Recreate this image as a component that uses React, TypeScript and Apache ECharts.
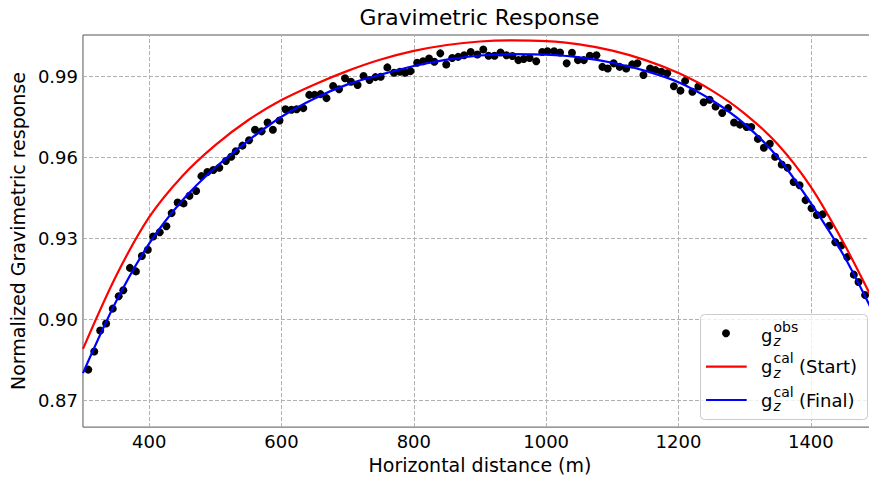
import React, { useEffect, useRef } from "react";
import * as echarts from "echarts";

// Observed gravimetric response (x in m, normalized g)
const obsX = [
  308, 317, 326, 335, 345, 354, 361, 371, 380, 389,
  398, 406, 416, 426, 434, 443, 452, 461, 471, 479,
  488, 497, 506, 516, 524, 531, 541, 551, 560, 570,
  579, 587, 597, 606, 615, 623, 633, 642, 650, 659,
  668, 678, 687, 696, 705, 715, 724, 733, 742, 750,
  760, 770, 779, 787, 795, 805, 814, 823, 831, 840,
  849, 858, 867, 876, 886, 896, 905, 913, 922, 931,
  940, 949, 958, 966, 975, 985, 994, 1002, 1012, 1021,
  1031, 1039, 1048, 1057, 1066, 1076, 1085, 1093, 1102, 1111,
  1121, 1130, 1138, 1147, 1157, 1165, 1174, 1183, 1193, 1203,
  1210, 1221, 1230, 1238, 1247, 1256, 1266, 1275, 1284, 1293,
  1303, 1310, 1320, 1329, 1338, 1346, 1356, 1365, 1374, 1383,
  1392, 1401, 1409, 1418, 1428, 1437, 1446, 1455, 1465, 1472,
  1482,
];
const obsY = [
  0.8813, 0.8880, 0.8958, 0.8984, 0.9039, 0.9085, 0.9107, 0.9190, 0.9177, 0.9234,
  0.9257, 0.9306, 0.9322, 0.9344, 0.9393, 0.9432, 0.9429, 0.9457, 0.9475, 0.9530,
  0.9545, 0.9553, 0.9561, 0.9586, 0.9602, 0.9622, 0.9643, 0.9663, 0.9702, 0.9696,
  0.9729, 0.9702, 0.9736, 0.9778, 0.9776, 0.9778, 0.9782, 0.9831, 0.9831, 0.9834,
  0.9819, 0.9864, 0.9852, 0.9893, 0.9880, 0.9868, 0.9901, 0.9886, 0.9897, 0.9898,
  0.9933, 0.9913, 0.9917, 0.9913, 0.9919, 0.9950, 0.9956, 0.9966, 0.9954, 0.9985,
  0.9944, 0.9968, 0.9972, 0.9978, 0.9990, 0.9981, 0.9999, 0.9976, 0.9976, 0.9988,
  0.9978, 0.9975, 0.9960, 0.9964, 0.9968, 0.9956, 0.9990, 0.9993, 0.9993, 0.9988,
  0.9948, 0.9987, 0.9960, 0.9960, 0.9976, 0.9978, 0.9935, 0.9929, 0.9948, 0.9935,
  0.9929, 0.9944, 0.9948, 0.9905, 0.9929, 0.9923, 0.9917, 0.9911, 0.9863, 0.9847,
  0.9883, 0.9843, 0.9862, 0.9804, 0.9813, 0.9788, 0.9764, 0.9782, 0.9729, 0.9721,
  0.9712, 0.9712, 0.9668, 0.9635, 0.9650, 0.9602, 0.9573, 0.9561, 0.9508, 0.9496,
  0.9441, 0.9411, 0.9386, 0.9389, 0.9346, 0.9285, 0.9273, 0.9230, 0.9165, 0.9138,
  0.9089,
];

// Calculated curves
const curveX = [
  300, 350, 400, 450, 500, 550, 600, 650, 700, 750, 800, 850, 900,
  950, 1000, 1050, 1100, 1150, 1200, 1250, 1300, 1350, 1400, 1450, 1500,
];
const startY = [
  0.8890, 0.9160, 0.9378, 0.9530, 0.9645, 0.9738, 0.9812, 0.9870, 0.9920, 0.9962, 0.9994, 1.0016, 1.0029,
  1.0033, 1.0030, 1.0018, 0.9995, 0.9960, 0.9912, 0.9848, 0.9762, 0.9648, 0.9490, 0.9280, 0.9040,
];
const finalY = [
  0.8800, 0.9065, 0.9280, 0.9440, 0.9562, 0.9662, 0.9750, 0.9818, 0.9870, 0.9906, 0.9938, 0.9962, 0.9977,
  0.9982, 0.9980, 0.9970, 0.9950, 0.9920, 0.9878, 0.9812, 0.9723, 0.9600, 0.9430, 0.9235, 0.8995,
];

const xTicks = [400, 600, 800, 1000, 1200, 1400];
const yTicks = [0.87, 0.9, 0.93, 0.96, 0.99];

const legendSup = ["obs", "cal", "cal"];
const legendSuffix = ["", "(Start)", "(Final)"];
const legendColors = ["#000000", "#ff0000", "#0000ff"];

const FONT = "'DejaVu Sans', 'Liberation Sans', sans-serif";

export default function App() {
  const ref = useRef<HTMLDivElement>(null);

  useEffect(() => {
    if (!ref.current) return;
    const chart = echarts.init(ref.current, null, { renderer: "svg" });

    const legendEls: any[] = [];
    legendEls.push({
      type: "rect",
      shape: { x: 700.5, y: 314.5, width: 167, height: 105, r: 4 },
      style: { fill: "rgba(255,255,255,0.8)", stroke: "#cccccc", lineWidth: 1 },
      z: 100,
    });
    for (let i = 0; i < 3; i++) {
      const cy = 333.3 + 33.35 * i;
      const shift = i === 0 ? 1.8 : 0;
      if (i === 0) {
        legendEls.push({
          type: "circle",
          shape: { cx: 726, cy, r: 4 },
          style: { fill: legendColors[i] },
          z: 101,
        });
      } else {
        legendEls.push({
          type: "line",
          shape: { x1: 706, y1: cy, x2: 746.7, y2: cy },
          style: { stroke: legendColors[i], lineWidth: 2.2 },
          z: 101,
        });
      }
      legendEls.push({
        type: "text",
        x: 761,
        y: cy + shift,
        style: { text: "g", fontSize: 18, fontFamily: FONT, fill: "#000", align: "left", verticalAlign: "middle" },
        z: 101,
      });
      legendEls.push({
        type: "text",
        x: 773.5,
        y: cy + 6.1 + shift,
        style: {
          text: "z", fontSize: 13.5, fontStyle: "italic", fontFamily: FONT, fill: "#000",
          align: "left", verticalAlign: "middle", lineHeight: 9,
        },
        z: 101,
      });
      legendEls.push({
        type: "text",
        x: 773.5,
        y: cy - 8.2 + shift,
        style: {
          text: legendSup[i], fontSize: 14, fontFamily: FONT, fill: "#000",
          align: "left", verticalAlign: "middle", lineHeight: 9,
        },
        z: 101,
      });
      if (legendSuffix[i]) {
        legendEls.push({
          type: "text",
          x: 799,
          y: cy,
          style: { text: legendSuffix[i], fontSize: 18, fontFamily: FONT, fill: "#000", align: "left", verticalAlign: "middle" },
          z: 101,
        });
      }
    }

    const tickText = { fontFamily: FONT, fontSize: 18, color: "#000" };
    const nameText = { fontFamily: FONT, fontSize: 19, color: "#000" };

    const option: any = {
      animation: false,
      backgroundColor: "#ffffff",
      title: {
        text: "Gravimetric Response",
        left: 479.5,
        top: 6,
        padding: 0,
        textAlign: "center",
        textStyle: { fontFamily: FONT, fontSize: 21.8, fontWeight: "normal", color: "#000" },
      },
      grid: {
        left: 82,
        right: 0,
        top: 35,
        bottom: 50,
        show: true,
        borderColor: "#555555",
        borderWidth: 1,
        backgroundColor: "transparent",
      },
      xAxis: {
        type: "value",
        min: 300,
        max: 1500,
        name: "Horizontal distance (m)",
        nameLocation: "middle",
        nameGap: 26,
        nameTextStyle: nameText,
        axisLine: { show: false },
        axisTick: { show: false },
        splitLine: { show: false },
        axisLabel: {
          ...tickText,
          margin: 5,
          customValues: xTicks,
          formatter: (v: number) => String(v),
        },
      },
      yAxis: {
        type: "value",
        min: 0.86,
        max: 1.0053,
        name: "Normalized Gravimetric response",
        nameLocation: "middle",
        nameGap: 53,
        nameTextStyle: nameText,
        axisLine: { show: false },
        axisTick: { show: false },
        splitLine: { show: false },
        axisLabel: {
          ...tickText,
          margin: 5,
          customValues: yTicks,
          formatter: (v: number) => v.toFixed(2),
        },
      },
      series: [
        {
          type: "scatter",
          name: "obs",
          data: obsX.map((x, i) => [x, obsY[i]]),
          symbol: "circle",
          symbolSize: 8,
          itemStyle: { color: "#000000", opacity: 1 },
          z: 2,
          silent: true,
          markLine: {
            silent: true,
            z: 1,
            symbol: ["none", "none"],
            label: { show: false },
            emphasis: { disabled: true },
            lineStyle: { color: "#b0b0b0", type: [4, 2], width: 1 },
            data: [
              ...xTicks.map((v) => ({ xAxis: v })),
              ...yTicks.map((v) => ({ yAxis: v })),
            ],
          },
        },
        {
          type: "line",
          name: "Start",
          data: curveX.map((x, i) => [x, startY[i]]),
          smooth: 0.3,
          symbol: "none",
          showSymbol: false,
          lineStyle: { color: "#ff0000", width: 2.2 },
          itemStyle: { color: "#ff0000" },
          z: 3,
          silent: true,
        },
        {
          type: "line",
          name: "Final",
          data: curveX.map((x, i) => [x, finalY[i]]),
          smooth: 0.3,
          symbol: "none",
          showSymbol: false,
          lineStyle: { color: "#0000ff", width: 2.2 },
          itemStyle: { color: "#0000ff" },
          z: 4,
          silent: true,
        },
      ],
      graphic: legendEls,
    };

    chart.setOption(option);
    return () => {
      chart.dispose();
    };
  }, []);

  return (
    <div
      style={{
        position: "absolute",
        left: 0,
        top: 0,
        width: 869,
        height: 479,
        overflow: "hidden",
        background: "#ffffff",
      }}
    >
      <div ref={ref} style={{ width: 877, height: 479 }} />
    </div>
  );
}
